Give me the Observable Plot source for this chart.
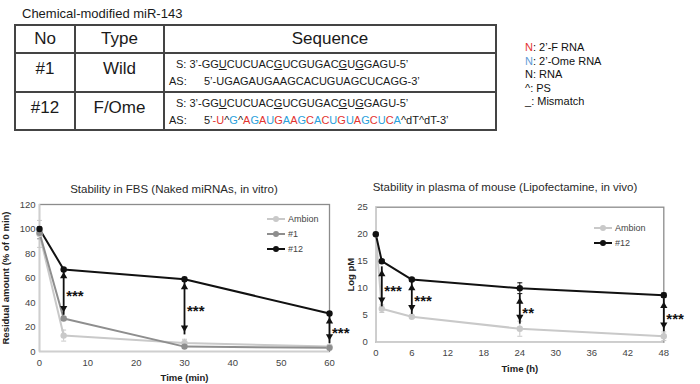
<!DOCTYPE html>
<html><head><meta charset="utf-8">
<script src="https://cdn.jsdelivr.net/npm/d3@7"></script>
<script src="https://cdn.jsdelivr.net/npm/@observablehq/plot@0.6"></script>
<style>
html,body{margin:0;padding:0;background:#fff;}
body{width:700px;height:384px;position:relative;overflow:hidden;font-family:"Liberation Sans",Arial,sans-serif;color:#1a1a1a;}
.abs{position:absolute;}
svg{overflow:visible;}
#tbl{position:absolute;left:14px;top:24px;display:grid;grid-template-columns:60px 89px 332px;grid-template-rows:28px 39px 38px;border-top:2px solid #444;border-left:2px solid #444;}
#tbl .c{box-sizing:border-box;border-right:2px solid #444;border-bottom:2px solid #444;}
#tbl .h{font-size:17px;text-align:center;line-height:26px;}
#tbl .n{font-size:17px;text-align:center;padding-top:3px;line-height:24px;}
#tbl .s{font-size:11px;line-height:17px;padding-top:2px;white-space:nowrap;}
.u{text-decoration:underline;text-underline-offset:1px;}
#modleg{position:absolute;left:525px;top:41px;font-size:11px;line-height:13.5px;color:#111;}
.chart{position:absolute;}
.ttl{position:absolute;font-size:11.5px;text-align:center;color:#2a2a2a;white-space:nowrap;}
.leg{position:absolute;font-size:9px;color:#444;}
.leg div{height:15px;display:flex;align-items:center;}
g[aria-label="x-axis label"] text, g[aria-label="y-axis label"] text{font-weight:bold;font-size:9.5px;fill:#222;}
g[aria-label="x-axis tick label"] text, g[aria-label="y-axis tick label"] text{fill:#444;font-size:9.5px;}
</style>
</head><body>
<div id="root"></div>
<script>
// ---------- table data ----------
const tableTitle = "Chemical-modified miR-143";
const tableHeaders = ["No", "Type", "Sequence"];
const duplexNo = ["#1", "#12"];
const duplexType = ["Wild", "F/Ome"];
const senseStrand = "GGUCUCUACGUCGUGACGUGGAGU";
const senseMismatch = [2, 9, 17, 19];
const antisenseWild = "UGAGAUGAAGCACUGUAGCUCAGG";
const antisense12 = "UGAGAUGAAGCACUGUAGCUCA";
const antisense12Mod = "FOFOFOFOFOFOFOFOFOFOFO";
const antisense12PS = [0, 1];
const antisense12Tail = "^dT^dT";
const legendKey = ["N", "N", "N", "^", "_"];
const legendKeyMod = ["F", "O", "", "", ""];
const legendText = [": 2’-F RNA", ": 2’-Ome RNA", ": RNA", ": PS", ": Mismatch"];

// ---------- chart data ----------
const fbsTitle = "Stability in FBS (Naked miRNAs, in vitro)";
const fbsXLabel = "Time (min)";
const fbsYLabel = "Residual amount (% of 0 min)";
const fbsTime = [0, 5, 30, 60];
const fbsAmbion = [96, 13, 7, 4];
const fbsAmbionErr = [11, 4.5, 3, 1];
const fbs1 = [97, 27, 4, 3];
const fbs1Err = [5, 1.5, 1, 0.8];
const fbs12 = [100, 67, 59, 31];
const fbs12Err = [1, 1.5, 1.5, 1.5];
const fbsSigTime = [5, 30, 60];
const fbsSigLow = [32, 16, 9];
const fbsSigHigh = [65, 56, 28];
const fbsSigLabel = ["***", "***", "***"];
const fbsXTicks = [0, 10, 20, 30, 40, 50, 60];
const fbsYTicks = [0, 20, 40, 60, 80, 100, 120];

const plasmaTitle = "Stability in plasma of mouse (Lipofectamine, in vivo)";
const plasmaXLabel = "Time (h)";
const plasmaYLabel = "Log pM";
const plasmaTime = [0, 1, 6, 24, 48];
const plasmaAmbion = [20, 6.2, 4.7, 2.5, 1.1];
const plasmaAmbionErr = [0.3, 0.7, 0.3, 1.4, 0.8];
const plasma12 = [20, 15, 11.6, 10, 8.7];
const plasma12Err = [0.3, 0.3, 0.3, 1, 0.4];
const plasmaSigTime = [1, 6, 24, 48];
const plasmaSigLow = [7.1, 5.7, 3.9, 2.5];
const plasmaSigHigh = [13.4, 10.8, 8.3, 7.5];
const plasmaSigLabel = ["***", "***", "**", "***"];
const plasmaXTicks = [0, 6, 12, 18, 24, 30, 36, 42, 48];
const plasmaYTicks = [0, 5, 10, 15, 20, 25];

const seriesNames = ["Ambion", "#1", "#12"];
const seriesColors = ["#c9c9c9", "#8e8e8e", "#111111"];
const RED = "#e3342f", BLUE = "#2a9fdc", LEGBLUE = "#5f9bd6";

// ---------- build table ----------
const root = document.getElementById("root");
function senseHTML(){
  let h = "S: 3’-";
  [...senseStrand].forEach((c,i)=>{ h += senseMismatch.includes(i) ? `<span class="u">${c}</span>` : c; });
  return h + "-5’";
}
function asLine(body){ return `<span style="display:inline-block;width:35px">AS:</span>${body}`; }
function wildAS(){ return asLine("5’-" + antisenseWild + "-3’"); }
function modAS(){
  let h = `5’<span style="color:${RED}">-</span>`;
  [...antisense12].forEach((c,i)=>{
    const col = antisense12Mod[i] === "F" ? RED : antisense12Mod[i] === "O" ? BLUE : "inherit";
    h += `<span style="color:${col}">${c}</span>`;
    if (antisense12PS.includes(i)) h += "^";
  });
  return asLine(h + antisense12Tail + "-3’");
}
const title = document.createElement("div");
title.className = "abs"; title.style.cssText = "left:22px;top:6px;font-size:13px;";
title.textContent = tableTitle; root.appendChild(title);
const tbl = document.createElement("div"); tbl.id = "tbl";
let th = tableHeaders.map(t=>`<div class="c h">${t}</div>`).join("");
const asBuilders = [wildAS, modAS];
duplexNo.forEach((no,i)=>{
  th += `<div class="c n">${no}</div><div class="c n">${duplexType[i]}</div>`;
  th += `<div class="c s"><div style="padding-left:11px">${senseHTML()}</div><div style="padding-left:4px">${asBuilders[i]()}</div></div>`;
});
tbl.innerHTML = th; root.appendChild(tbl);
const ml = document.createElement("div"); ml.id = "modleg";
ml.innerHTML = legendKey.map((k,i)=>{
  const col = legendKeyMod[i]==="F" ? RED : legendKeyMod[i]==="O" ? LEGBLUE : "inherit";
  return `<div><span style="color:${col}">${k}</span>${legendText[i]}</div>`;
}).join("");
root.appendChild(ml);

// ---------- charts ----------
function seriesRows(name, time, values, errs){
  return time.map((t,i)=>({series:name, time:t, value:values[i], err:errs[i]}));
}
const capSymbol = {draw(ctx, size){ const w = Math.sqrt(size/Math.PI); ctx.moveTo(-w,0); ctx.lineTo(w,0); }};

function stabilityPlot(o){
  const sigRows = o.sigTime.map((t,i)=>({time:t, low:o.sigLow[i], high:o.sigHigh[i], label:o.sigLabel[i]}));
  return Plot.plot({
    width: o.width, height: o.height,
    marginLeft: o.ml, marginRight: o.mr, marginTop: o.mt, marginBottom: o.mb,
    style: {fontFamily: '"Liberation Sans", Arial, sans-serif', fontSize: "9px", background: "transparent", overflow: "visible"},
    x: {domain: o.domainX},
    y: {domain: o.domainY},
    color: {domain: seriesNames, range: seriesColors},
    marks: [
      Plot.frame({stroke: "#8c8c8c", strokeWidth: 1.3}),
      Plot.ruleX([o.domainX[0]], {stroke: "#cfcfcf", strokeWidth: 1.6}),
      Plot.ruleY([o.domainY[0]], {stroke: "#cfcfcf", strokeWidth: 1.6}),
      Plot.axisX({ticks: o.xTicks, tickSize: 0, tickPadding: 7.5, label: o.xLabel, labelAnchor: "center", labelOffset: o.xLabelOffset, labelArrow: "none"}),
      Plot.axisY({ticks: o.yTicks, tickSize: 0, tickPadding: o.yPad, label: o.yLabel, labelAnchor: "center", labelOffset: o.yLabelOffset, labelArrow: "none"}),
      Plot.ruleX(o.rows, {x: "time", y1: d=>d.value-d.err, y2: d=>d.value+d.err, stroke: "series", strokeWidth: 1}),
      Plot.dot(o.rows, {x: "time", y: d=>d.value+d.err, symbol: capSymbol, r: 2.5, stroke: "series", fill: "none", strokeWidth: 1}),
      Plot.dot(o.rows, {x: "time", y: d=>d.value-d.err, symbol: capSymbol, r: 2.5, stroke: "series", fill: "none", strokeWidth: 1}),
      Plot.line(o.rows, {x: "time", y: "value", z: "series", stroke: "series", strokeWidth: 2}),
      Plot.dot(o.rows, {x: "time", y: "value", fill: "series", r: 3.2}),
      Plot.ruleX(sigRows, {x: "time", y1: "low", y2: "high", stroke: "#111", strokeWidth: 1.8, insetTop: 3, insetBottom: 3}),
      Plot.dot(sigRows, {x: "time", y: "high", symbol: "triangle", r: 2.7, fill: "#111", dy: 4.2}),
      Plot.dot(sigRows, {x: "time", y: "low", symbol: "triangle", r: 2.7, fill: "#111", rotate: 180, dy: -4.2}),
      Plot.text(sigRows, {x: "time", y: d=>(d.low+d.high)/2, text: "label", textAnchor: "start", dx: 2.5, dy: 4, fontSize: 15, fontWeight: "bold", fill: "#111"})
    ]
  });
}

function addChart(left, top, svg){
  const d = document.createElement("div"); d.className = "chart";
  d.style.left = left + "px"; d.style.top = top + "px";
  d.appendChild(svg); root.appendChild(d);
}
function addTitle(text, cx, top){
  const d = document.createElement("div"); d.className = "ttl";
  d.style.left = (cx - 150) + "px"; d.style.width = "300px"; d.style.top = top + "px";
  d.textContent = text; root.appendChild(d);
}
function addLegend(names, left, top){
  const d = document.createElement("div"); d.className = "leg";
  d.style.left = left + "px"; d.style.top = top + "px";
  d.innerHTML = names.map(n=>{
    const c = seriesColors[seriesNames.indexOf(n)];
    return `<div><svg width="18" height="8" style="margin-right:3px"><line x1="0" y1="4" x2="18" y2="4" stroke="${c}" stroke-width="2"/><circle cx="9" cy="4" r="3" fill="${c}"/></svg>${n}</div>`;
  }).join("");
  root.appendChild(d);
}

const fbsRows = [
  ...seriesRows("Ambion", fbsTime, fbsAmbion, fbsAmbionErr),
  ...seriesRows("#1", fbsTime, fbs1, fbs1Err),
  ...seriesRows("#12", fbsTime, fbs12, fbs12Err)
];
const plasmaRows = [
  ...seriesRows("Ambion", plasmaTime, plasmaAmbion, plasmaAmbionErr),
  ...seriesRows("#12", plasmaTime, plasma12, plasma12Err)
];

addChart(0, 175, stabilityPlot({
  rows: fbsRows, width: 350, height: 209, ml: 39, mr: 21, mt: 29, mb: 33,
  domainX: [0, 60], domainY: [0, 120], xTicks: fbsXTicks, yTicks: fbsYTicks,
  xLabel: fbsXLabel, yLabel: fbsYLabel, xLabelOffset: 29, yLabelOffset: 37, yPad: 4,
  sigTime: fbsSigTime, sigLow: fbsSigLow, sigHigh: fbsSigHigh, sigLabel: fbsSigLabel
}));
addChart(350, 175, stabilityPlot({
  rows: plasmaRows, width: 350, height: 209, ml: 25.3, mr: 36.7, mt: 31.7, mb: 42.3,
  domainX: [0, 48], domainY: [0, 25], xTicks: plasmaXTicks, yTicks: plasmaYTicks,
  xLabel: plasmaXLabel, yLabel: plasmaYLabel, xLabelOffset: 30, yLabelOffset: 28.6, yPad: 8,
  sigTime: plasmaSigTime, sigLow: plasmaSigLow, sigHigh: plasmaSigHigh, sigLabel: plasmaSigLabel
}));
addTitle(fbsTitle, 174, 183);
addTitle(plasmaTitle, 505, 181);
addLegend(["Ambion", "#1", "#12"], 267, 211);
addLegend(["Ambion", "#12"], 594, 220);
</script>
</body></html>
